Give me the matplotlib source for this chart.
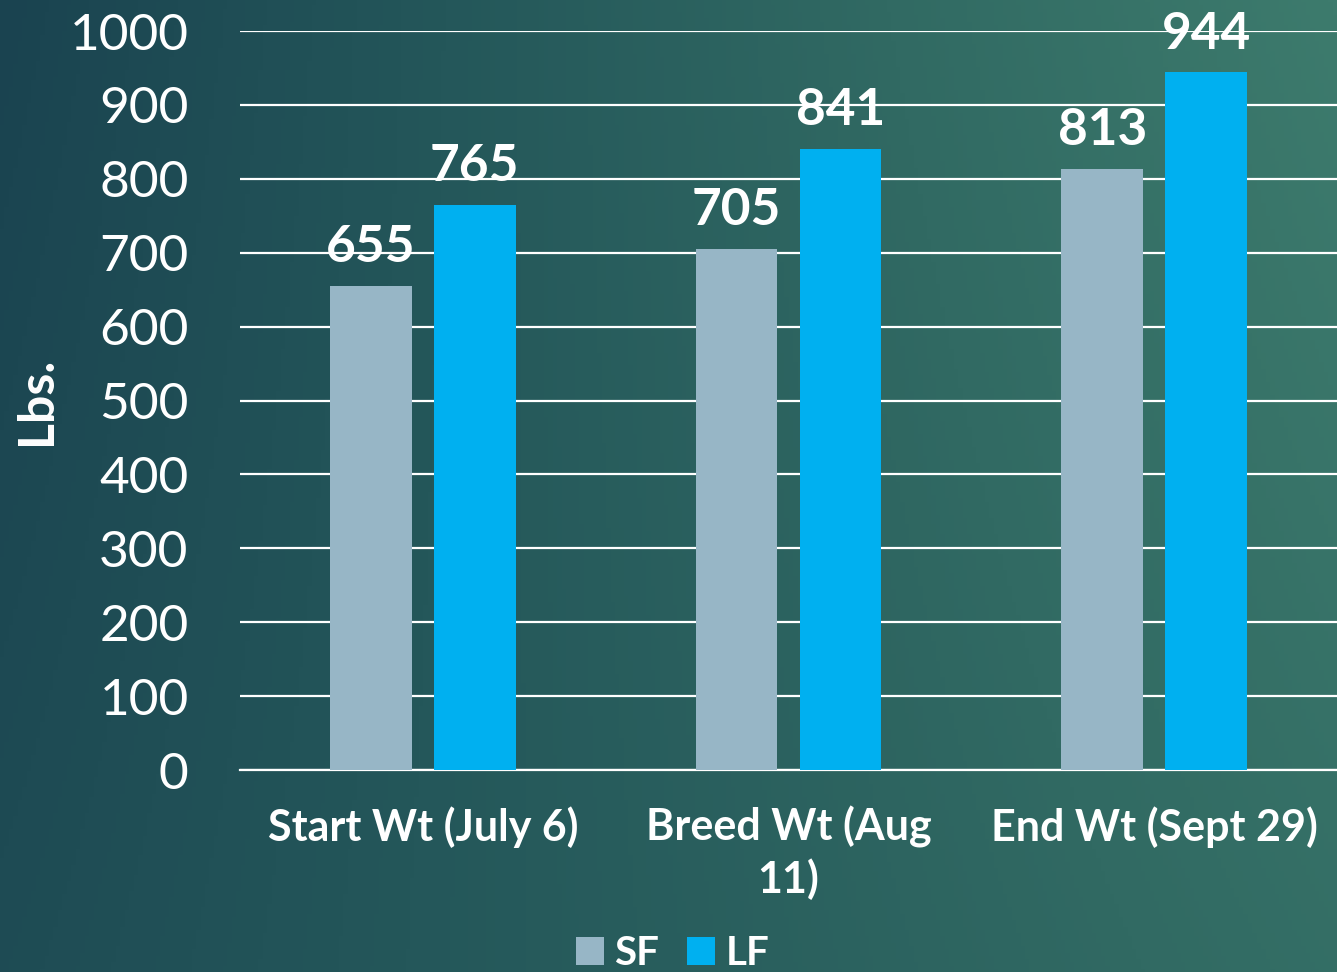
import numpy as np
import matplotlib.pyplot as plt
from matplotlib.colors import LinearSegmentedColormap

categories = ["Start Wt (July 6)", "Breed Wt (Aug\n11)", "End Wt (Sept 29)"]
sf_values = [655, 705, 813]
lf_values = [765, 841, 944]
y_ticks = [0, 100, 200, 300, 400, 500, 600, 700, 800, 900, 1000]

SF_COLOR = "#97b6c6"
LF_COLOR = "#00b0f0"

plt.rcParams["font.family"] = ["Lato", "DejaVu Sans"]

fig = plt.figure(figsize=(13.37, 9.72), dpi=100)

# background gradient (dark teal left -> green teal right)
bg = fig.add_axes([0, 0, 1, 1], zorder=-10)
bg.axis("off")
xx, yy = np.meshgrid(np.linspace(0, 1, 300), np.linspace(0, 1, 300))
grad = 0.75 * xx + 0.25 * (1 - yy) * xx + 0.15 * (1 - xx) * yy
cmap = LinearSegmentedColormap.from_list(
    "bg", ["#1a4350", "#24575a", "#316a63", "#3d7b6d"]
)
bg.imshow(grad, cmap=cmap, aspect="auto", extent=[0, 1, 0, 1],
          origin="upper", vmin=0, vmax=1)

ax = fig.add_axes([0.1795, 0.2078, 0.8205, 0.7603])
ax.patch.set_alpha(0)

x = np.arange(len(categories))
w = 0.223
off = 0.142

b1 = ax.bar(x - off, sf_values, w, color=SF_COLOR, label="SF", zorder=3)
b2 = ax.bar(x + off, lf_values, w, color=LF_COLOR, label="LF", zorder=3)

for bars, vals in [(b1, sf_values), (b2, lf_values)]:
    for b, v in zip(bars, vals):
        ax.text(b.get_x() + b.get_width() / 2, v + 20, str(v),
                ha="center", va="bottom", color="white",
                fontsize=37, fontweight="bold", zorder=4)

ax.set_xlim(-0.5, 2.5)
ax.set_ylim(0, 1000)
ax.set_yticks(y_ticks)
ax.grid(axis="y", color="white", linewidth=1.6, zorder=0)
ax.set_axisbelow(True)

for s in ["top", "right", "left"]:
    ax.spines[s].set_visible(False)
ax.spines["bottom"].set_color("white")
ax.spines["bottom"].set_linewidth(1.6)

ax.set_xticks(x)
ax.set_xticklabels(categories, fontsize=31, fontweight="bold",
                   color="white", linespacing=1.3)
ax.tick_params(axis="x", length=0, pad=26)
ax.tick_params(axis="y", length=0, pad=37, labelsize=37,
               labelcolor="white")

fig.text(0.027, 0.588, "Lbs.", rotation=90, ha="center", va="center",
         color="white", fontsize=36, fontweight="bold")

leg = fig.legend(handles=[b1, b2], loc="center",
                 bbox_to_anchor=(0.503, 0.019), ncol=2, frameon=False,
                 fontsize=29, handlelength=0.7, handleheight=0.7,
                 handletextpad=0.25, columnspacing=0.7)
for t in leg.get_texts():
    t.set_color("white")
    t.set_fontweight("bold")

fig.savefig("out.png", dpi=100)
